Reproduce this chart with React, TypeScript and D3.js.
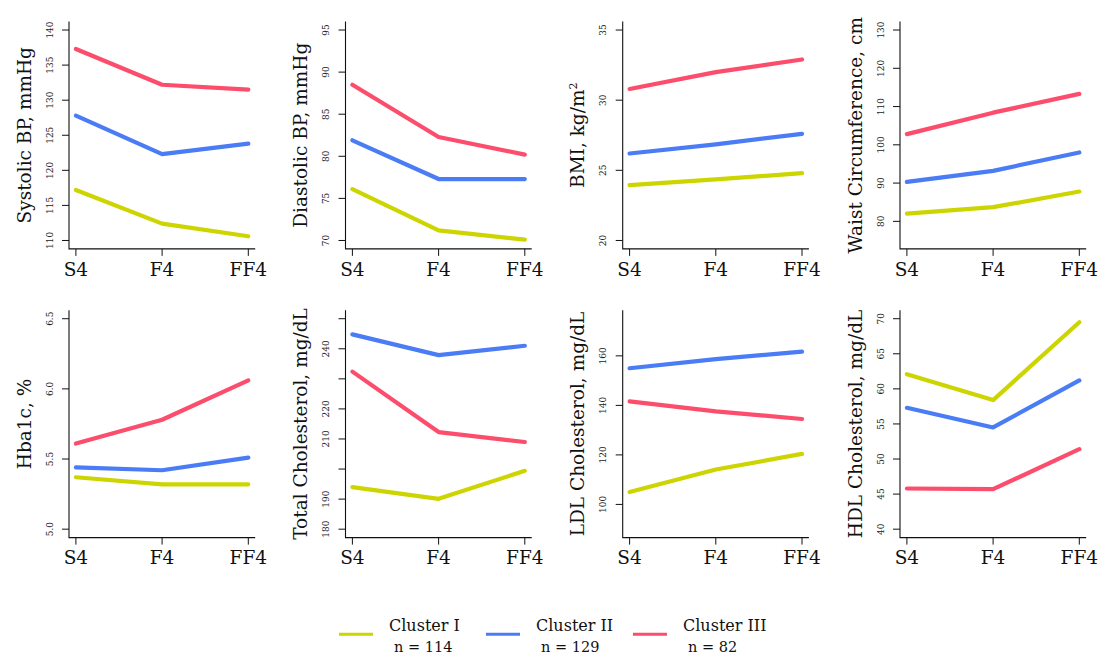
import React from "react";
import * as d3 from "d3";

// Visit labels along the x axis
const timepoints = ["S4", "F4", "FF4"];

// Cluster legend
const clusterNames = ["Cluster I", "Cluster II", "Cluster III"];
const clusterSizes = [114, 129, 82];
const clusterColors = ["#cdd500", "#4a7cf6", "#fd4d6c"];

// Mean values per cluster (I, II, III) at S4, F4, FF4
const systolicBP = [
  [117.2, 112.4, 110.6],
  [127.8, 122.3, 123.8],
  [137.3, 132.2, 131.5],
];
const diastolicBP = [
  [76.1, 71.2, 70.1],
  [81.9, 77.3, 77.3],
  [88.5, 82.3, 80.2],
];
const bmi = [
  [23.95, 24.35, 24.8],
  [26.2, 26.85, 27.6],
  [30.8, 32.0, 32.9],
];
const waist = [
  [82.0, 83.7, 87.8],
  [90.3, 93.2, 98.0],
  [102.8, 108.4, 113.3],
];
const hba1c = [
  [5.37, 5.32, 5.32],
  [5.44, 5.42, 5.51],
  [5.61, 5.78, 6.06],
];
const totalChol = [
  [194.0, 190.1, 199.4],
  [244.8, 237.9, 241.0],
  [232.4, 212.3, 209.0],
];
const ldl = [
  [105.0, 114.1, 120.4],
  [155.0, 158.7, 161.7],
  [141.6, 137.6, 134.5],
];
const hdl = [
  [62.1, 58.4, 69.5],
  [57.3, 54.5, 61.2],
  [45.8, 45.7, 51.4],
];

// Axis ticks and which of them carry a label
const sbpTicks = [110, 115, 120, 125, 130, 135, 140];
const dbpTicks = [70, 75, 80, 85, 90, 95];
const bmiTicks = [20, 25, 30, 35];
const waistTicks = [80, 90, 100, 110, 120, 130];
const hba1cTicks = [5.0, 5.5, 6.0, 6.5];
const tcTicks = [180, 190, 200, 210, 220, 230, 240, 250];
const tcLabelled = [180, 190, 210, 220, 240];
const ldlTicks = [100, 120, 140, 160];
const hdlTicks = [40, 45, 50, 55, 60, 65, 70];

type Panel = {
  title: React.ReactNode;
  values: number[][];
  ylim: [number, number];
  ticks: number[];
  labelled?: number[];
  fmt?: (v: number) => string;
};

const panels: Panel[] = [
  { title: "Systolic BP, mmHg", values: systolicBP, ylim: [110, 140], ticks: sbpTicks },
  { title: "Diastolic BP, mmHg", values: diastolicBP, ylim: [70, 95], ticks: dbpTicks },
  {
    title: (
      <>
        BMI, kg/m
        <tspan dy={-7} fontSize={11}>2</tspan>
      </>
    ),
    values: bmi,
    ylim: [20, 35],
    ticks: bmiTicks,
  },
  { title: "Waist Circumference, cm", values: waist, ylim: [75, 130], ticks: waistTicks },
  { title: "Hba1c, %", values: hba1c, ylim: [5, 6.5], ticks: hba1cTicks, fmt: d3.format(".1f") },
  { title: "Total Cholesterol, mg/dL", values: totalChol, ylim: [180, 250], ticks: tcTicks, labelled: tcLabelled },
  { title: "LDL Cholesterol, mg/dL", values: ldl, ylim: [90, 175], ticks: ldlTicks },
  { title: "HDL Cholesterol, mg/dL", values: hdl, ylim: [40, 70], ticks: hdlTicks },
];

const W = 1098;
const H = 655;
const FONT = "'DejaVu Serif', 'Liberation Serif', serif";
const colLefts = [69, 345.5, 622.7, 900];
const rowTops = [21.6, 310.3];
const plotW = 186.2;
const plotH = 227.3;

function PanelView({ p, left, top }: { p: Panel; left: number; top: number }) {
  const x = d3.scaleLinear().domain([0.92, 3.08]).range([left, left + plotW]);
  const r = p.ylim[1] - p.ylim[0];
  const y = d3
    .scaleLinear()
    .domain([p.ylim[0] - 0.04 * r, p.ylim[1] + 0.04 * r])
    .range([top + plotH, top]);
  const bottom = top + plotH;
  const line = d3
    .line<number>()
    .x((_, i) => x(i + 1))
    .y((v) => y(v));
  const fmt = p.fmt ?? ((v: number) => String(v));
  const labelled = p.labelled ?? p.ticks;
  return (
    <g>
      {/* L-shaped frame */}
      <path
        d={`M${left},${top}V${bottom}H${left + plotW}`}
        fill="none"
        stroke="#111"
        strokeWidth={1.1}
      />
      {/* y ticks */}
      {p.ticks.map((t) => (
        <g key={t}>
          <line x1={left - 7} x2={left} y1={y(t)} y2={y(t)} stroke="#111" strokeWidth={1} />
          {labelled.includes(t) && (
            <text
              transform={`translate(${left - 19},${y(t)}) rotate(-90)`}
              textAnchor="middle"
              dominantBaseline="middle"
              fontSize={9}
              fontFamily={FONT}
              fill="#222"
            >
              {fmt(t)}
            </text>
          )}
        </g>
      ))}
      {/* x ticks */}
      {timepoints.map((lab, i) => (
        <g key={lab}>
          <line x1={x(i + 1)} x2={x(i + 1)} y1={bottom} y2={bottom + 7} stroke="#111" strokeWidth={1} />
          <text
            x={x(i + 1)}
            y={bottom + 26.7}
            textAnchor="middle"
            fontSize={18.5}
            fontFamily={FONT}
            fill="#111"
          >
            {lab}
          </text>
        </g>
      ))}
      {/* y title */}
      <text
        transform={`translate(${left - 38.5},${top + plotH / 2}) rotate(-90)`}
        textAnchor="middle"
        fontSize={18.5}
        fontFamily={FONT}
        fill="#111"
      >
        {p.title}
      </text>
      {/* cluster lines */}
      {p.values.map((vals, ci) => (
        <path
          key={ci}
          d={line(vals) ?? ""}
          fill="none"
          stroke={clusterColors[ci]}
          strokeWidth={4.2}
          strokeLinecap="round"
          strokeLinejoin="round"
        />
      ))}
    </g>
  );
}

const legendLineX = [339, 486, 633];

export default function App() {
  return (
    <svg
      width={W}
      height={H}
      viewBox={`0 0 ${W} ${H}`}
      style={{ position: "absolute", left: 0, top: 0, background: "#fff" }}
    >
      <rect width={W} height={H} fill="#fff" />
      {panels.map((p, i) => (
        <PanelView key={i} p={p} left={colLefts[i % 4]} top={rowTops[Math.floor(i / 4)]} />
      ))}
      {clusterNames.map((name, i) => (
        <g key={name}>
          <line
            x1={legendLineX[i]}
            x2={legendLineX[i] + 34}
            y1={634.3}
            y2={634.3}
            stroke={clusterColors[i]}
            strokeWidth={3}
          />
          <text x={legendLineX[i] + 50} y={631} fontSize={16} fontFamily={FONT} fill="#111">
            {name}
          </text>
          <text x={legendLineX[i] + 55} y={651.5} fontSize={14.5} fontFamily={FONT} fill="#111">
            {`n = ${clusterSizes[i]}`}
          </text>
        </g>
      ))}
    </svg>
  );
}
